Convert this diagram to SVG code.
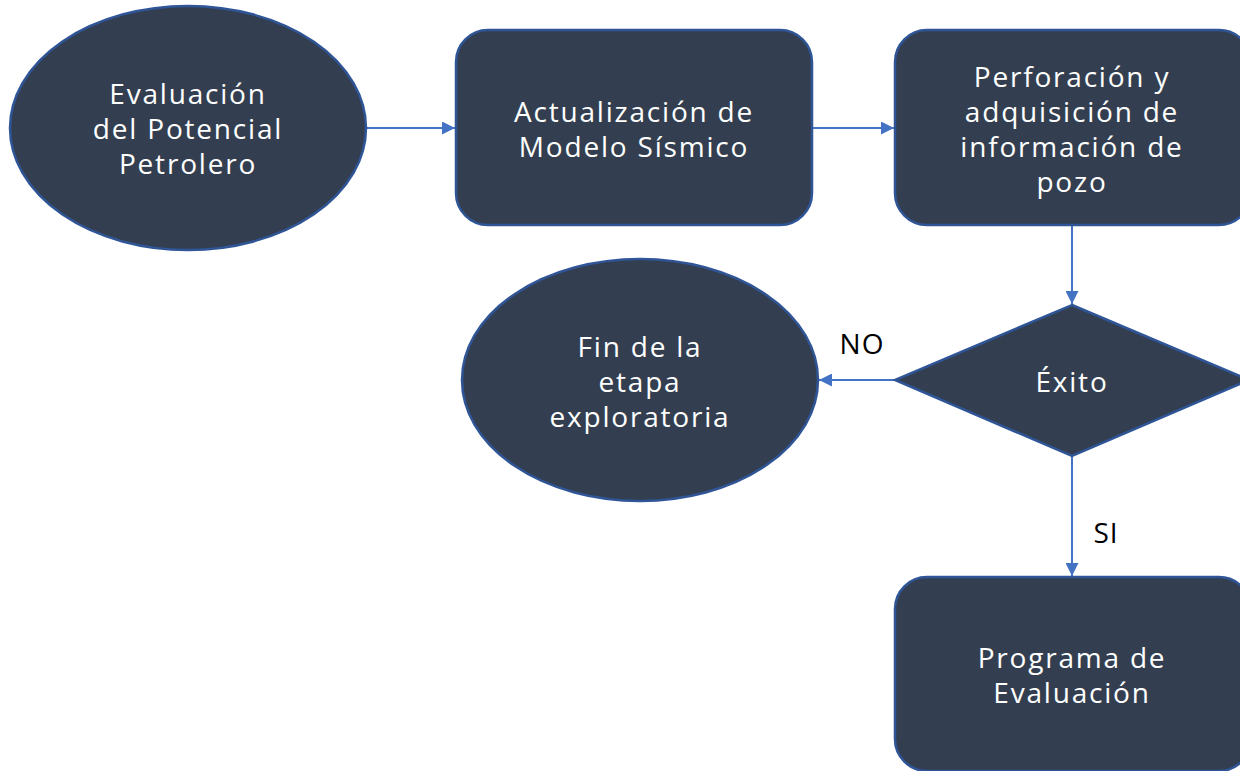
<svg xmlns="http://www.w3.org/2000/svg" width="1240" height="771" viewBox="0 0 1240 771">
<defs>
<style>
.n{fill:#333F50;stroke:#2F5597;stroke-width:2.5}
.t{font-family:"Open Sans","Noto Sans",sans-serif;font-size:28px;fill:#FFFFFF;text-anchor:middle;dominant-baseline:central;letter-spacing:1.8px}
.l{font-family:"Open Sans","Noto Sans",sans-serif;font-size:28px;fill:#000000;text-anchor:middle;dominant-baseline:central;letter-spacing:1px}
.c{stroke:#4472C4;stroke-width:2;fill:none;marker-end:url(#ah)}
</style>
<marker id="ah" markerWidth="13" markerHeight="13" refX="10" refY="5" orient="auto" markerUnits="userSpaceOnUse" viewBox="0 0 10 10">
<path d="M0,0 L10,5 L0,10 Z" fill="#4472C4"/>
</marker>
</defs>
<rect width="1240" height="771" fill="#FFFFFF"/>
<g id="connectors">
<line class="c" x1="366" y1="128" x2="455" y2="128"/>
<line class="c" x1="812" y1="128" x2="894" y2="128"/>
<line class="c" x1="1072" y1="225" x2="1072" y2="304"/>
<line class="c" x1="895" y1="380" x2="819" y2="380"/>
<line class="c" x1="1072" y1="456" x2="1072" y2="576"/>
<text class="l" x="862" y="343">NO</text>
<text class="l" x="1106" y="532">SI</text>
</g>
<g id="n1">
<ellipse class="n" cx="188" cy="128" rx="178" ry="122"/>
<text class="t" x="188" y="93">Evaluación</text>
<text class="t" x="188" y="128">del Potencial</text>
<text class="t" x="188" y="163">Petrolero</text>
</g>
<g id="n2">
<rect class="n" x="456" y="30" width="356" height="195" rx="32"/>
<text class="t" x="634" y="111">Actualización de</text>
<text class="t" x="634" y="146">Modelo Sísmico</text>
</g>
<g id="n3">
<rect class="n" x="895" y="30" width="356" height="195" rx="32"/>
<text class="t" x="1072" y="76">Perforación y</text>
<text class="t" x="1072" y="111">adquisición de</text>
<text class="t" x="1072" y="146">información de</text>
<text class="t" x="1072" y="181">pozo</text>
</g>
<g id="n4">
<polygon class="n" points="1072,305 1249,380 1072,456 895,380"/>
<text class="t" x="1072" y="381">Éxito</text>
</g>
<g id="n5">
<ellipse class="n" cx="640" cy="380" rx="178" ry="121"/>
<text class="t" x="640" y="346">Fin de la</text>
<text class="t" x="640" y="381">etapa</text>
<text class="t" x="640" y="416">exploratoria</text>
</g>
<g id="n6">
<rect class="n" x="895" y="577" width="356" height="194" rx="32"/>
<text class="t" x="1072" y="657">Programa de</text>
<text class="t" x="1072" y="692">Evaluación</text>
</g>
</svg>
